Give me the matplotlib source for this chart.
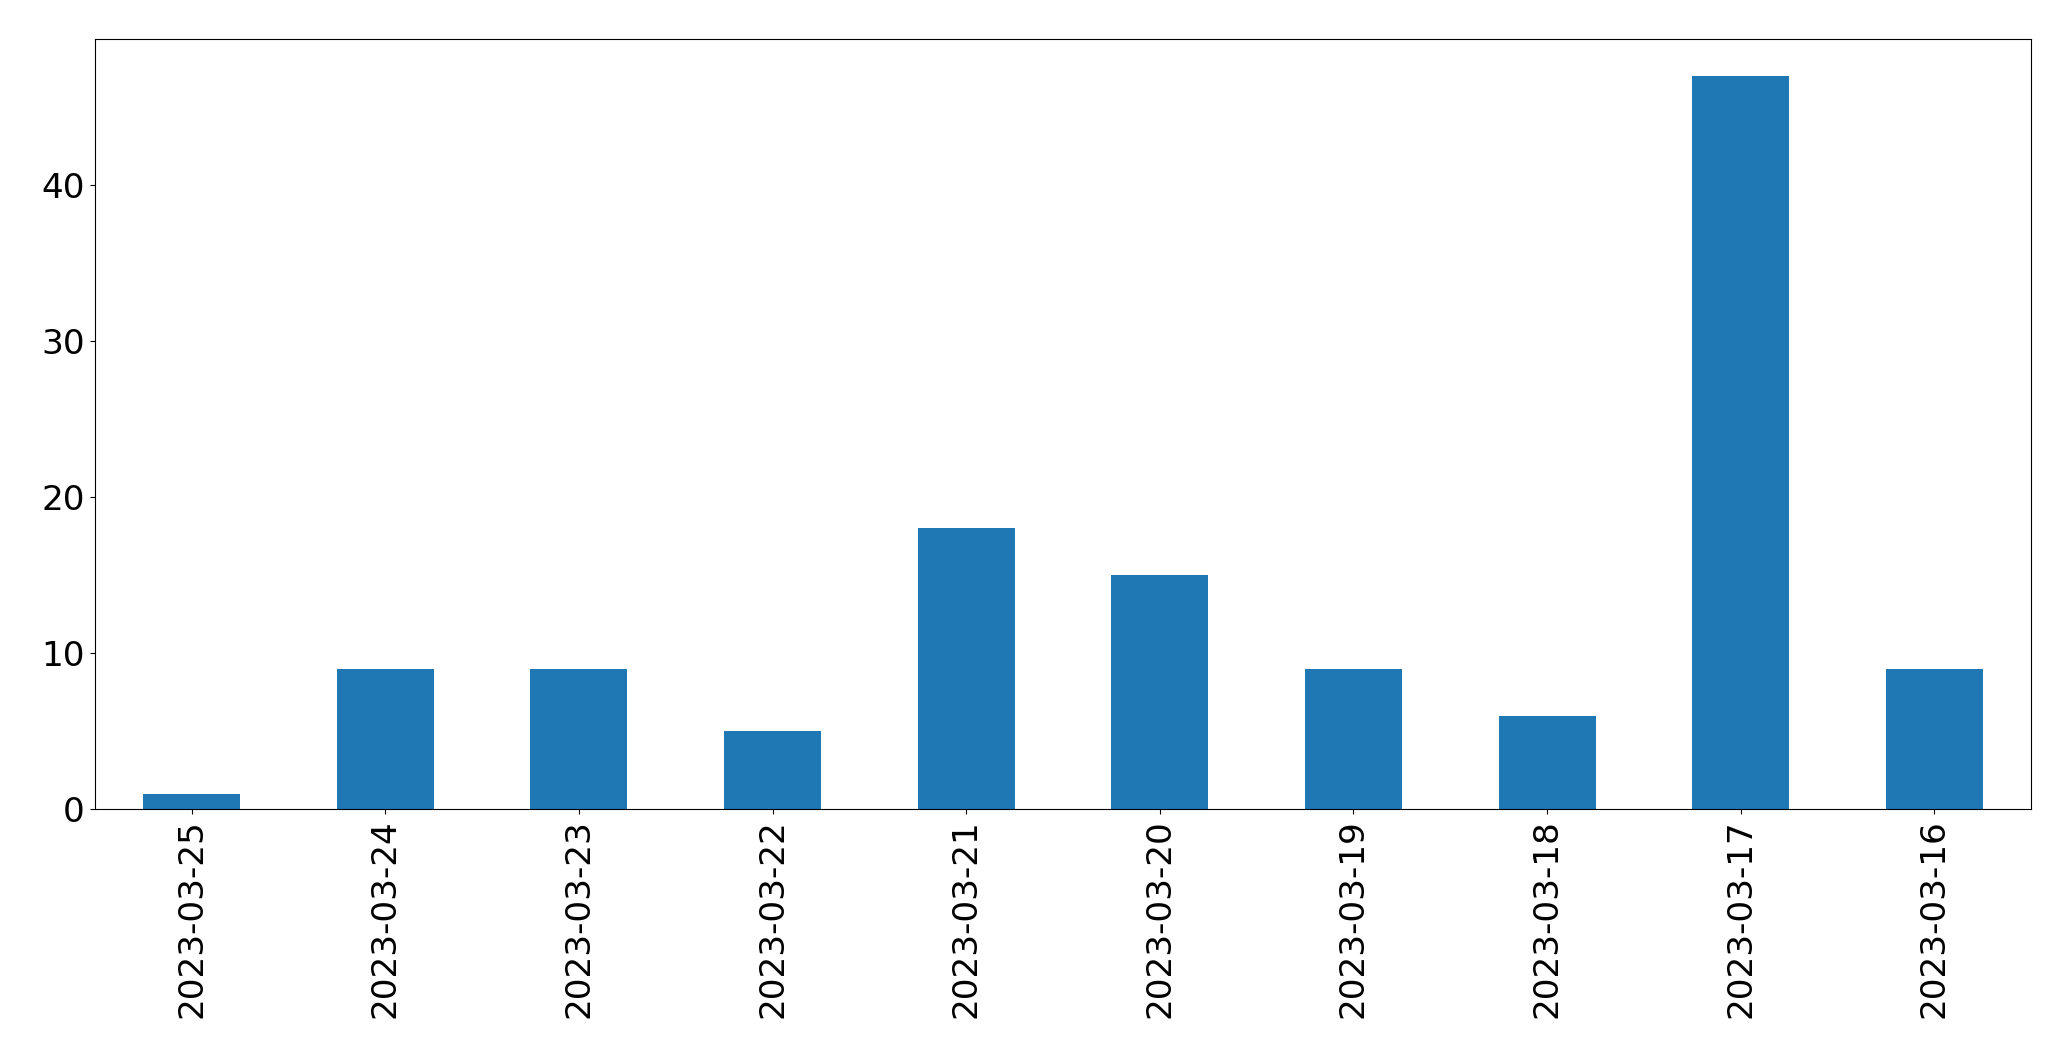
import matplotlib
matplotlib.use("Agg")
import matplotlib.pyplot as plt

dates = ['2023-03-25', '2023-03-24', '2023-03-23', '2023-03-22', '2023-03-21',
         '2023-03-20', '2023-03-19', '2023-03-18', '2023-03-17', '2023-03-16']
counts = [1, 9, 9, 5, 18, 15, 9, 6, 47, 9]

fig = plt.figure(figsize=(20.71, 10.61), dpi=100)
ax = fig.add_axes([94.7 / 2071, 1 - 809.3 / 1061, (2031.3 - 94.7) / 2071, (809.3 - 39.3) / 1061])

x = range(len(dates))
ax.bar(x, counts, width=0.5, color='#1f77b4')
ax.set_xlim(-0.5, len(dates) - 0.5)
ax.set_ylim(0, max(counts) * 1.05)
ax.set_xticks(list(x))
ax.set_xticklabels(dates, rotation=90)
ax.tick_params(labelsize=24.7)

fig.savefig('out.png', dpi=100)
